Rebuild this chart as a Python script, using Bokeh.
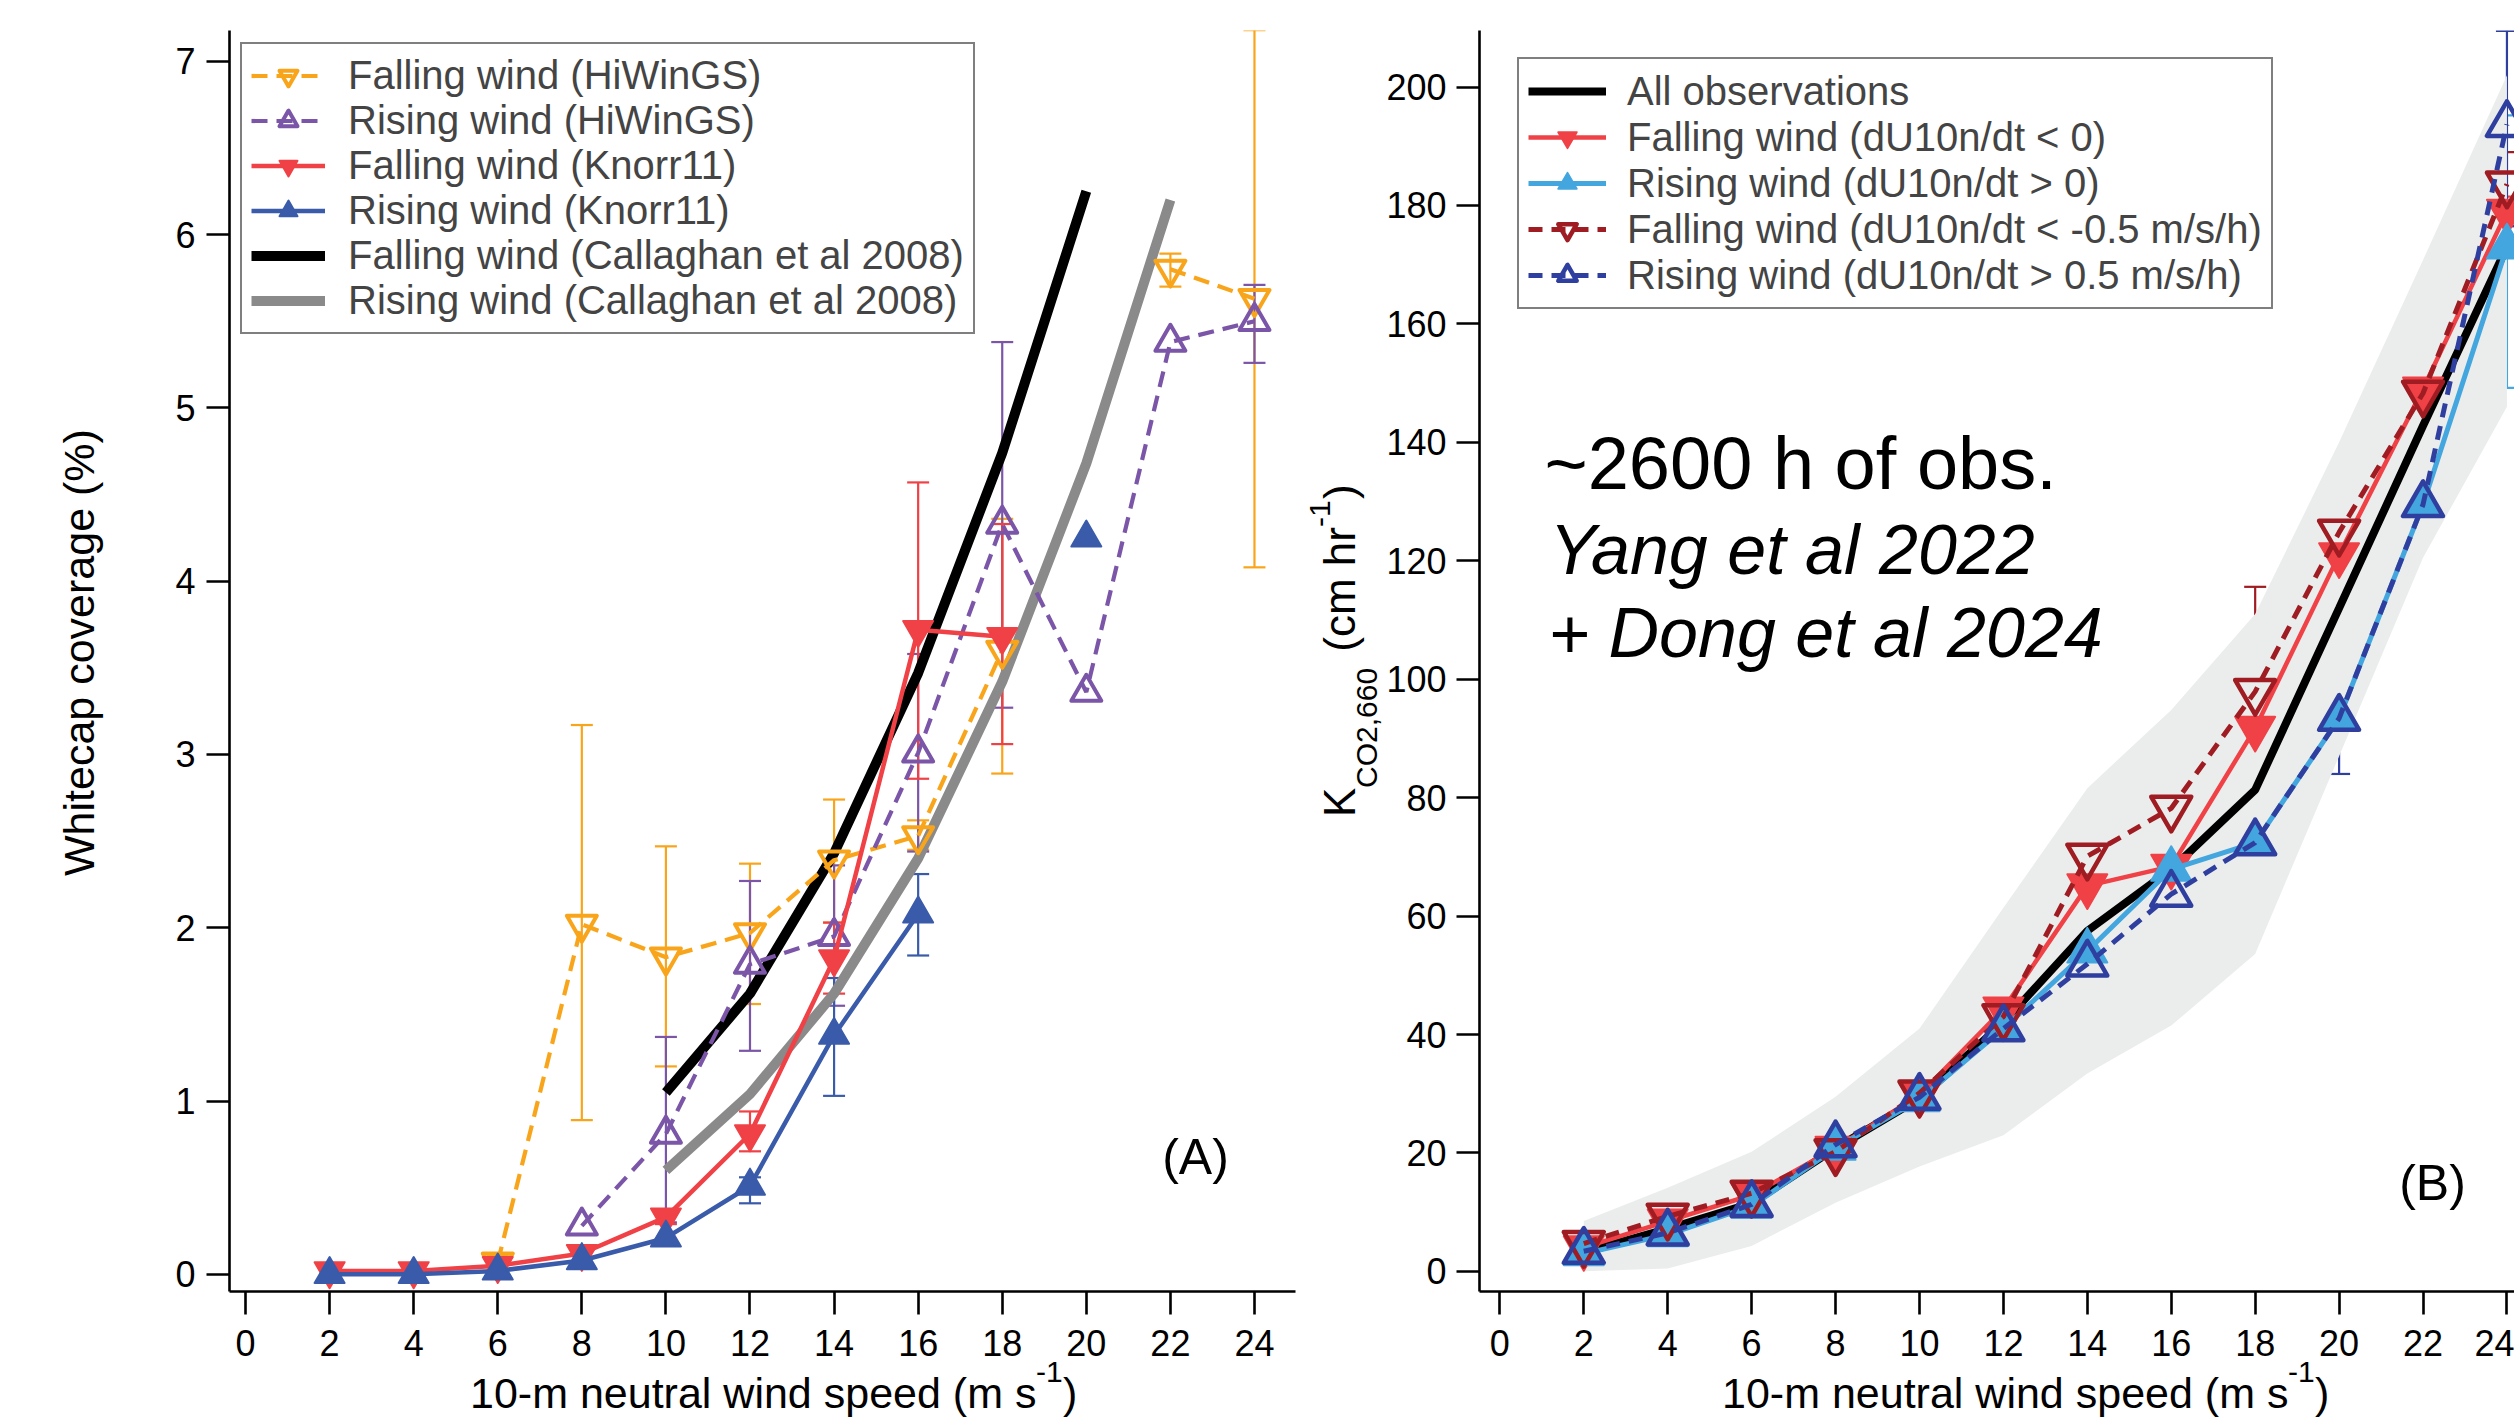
import math
from bokeh.plotting import figure
from bokeh.models import (Range1d, FixedTicker, Label, Legend, LegendItem, Div,
                          ColumnDataSource, Whisker, TeeHead)
from bokeh.layouts import row, column
from bokeh.embed import file_html
from bokeh.resources import INLINE

NaN = float("nan")

# ---------------- data: panel A (whitecap coverage, %) ----------------
wind = [2, 4, 6, 8, 10, 12, 14, 16, 18, 20, 22, 24]
x_ticks = [0, 2, 4, 6, 8, 10, 12, 14, 16, 18, 20, 22, 24]
ya_ticks = [0, 1, 2, 3, 4, 5, 6, 7]
yb_ticks = [0, 20, 40, 60, 80, 100, 120, 140, 160, 180, 200]

hiw_fall = [NaN, NaN, 0.07, 2.02, 1.83, 1.97, 2.39, 2.53, 3.60, NaN, 5.80, 5.63]
hiw_fall_lo = [NaN, NaN, 0.03, 0.89, 1.20, 1.56, 2.03, 2.45, 2.89, NaN, 5.70, 4.08]
hiw_fall_hi = [NaN, NaN, 0.11, 3.17, 2.47, 2.37, 2.74, 2.62, 4.36, NaN, 5.89, 7.18]

hiw_rise = [NaN, NaN, NaN, 0.28, 0.81, 1.79, 1.95, 3.01, 4.33, 3.36, 5.38, 5.50]
hiw_rise_lo = [NaN, NaN, NaN, NaN, 0.30, 1.29, 1.55, 2.44, 3.27, NaN, NaN, 5.26]
hiw_rise_hi = [NaN, NaN, NaN, NaN, 1.37, 2.27, 2.36, 3.58, 5.38, NaN, NaN, 5.71]

knorr_fall = [0.02, 0.02, 0.05, 0.12, 0.33, 0.81, 1.82, 3.72, 3.68, NaN, NaN, NaN]
knorr_fall_lo = [NaN, NaN, NaN, NaN, 0.29, 0.71, 1.62, 2.86, 3.06, NaN, NaN, NaN]
knorr_fall_hi = [NaN, NaN, NaN, NaN, 0.37, 0.94, 2.03, 4.57, 4.33, NaN, NaN, NaN]

knorr_rise = [0.0, 0.0, 0.02, 0.08, 0.21, 0.51, 1.38, 2.08, NaN, 4.25, NaN, NaN]
knorr_rise_lo = [NaN, NaN, NaN, NaN, NaN, 0.41, 1.03, 1.84, NaN, NaN, NaN, NaN]
knorr_rise_hi = [NaN, NaN, NaN, NaN, NaN, 0.56, 1.71, 2.31, NaN, NaN, NaN, NaN]

callaghan_fall = [NaN, NaN, NaN, NaN, 1.05, 1.62, 2.43, 3.47, 4.74, 6.25, NaN, NaN]
callaghan_rise = [NaN, NaN, NaN, NaN, 0.60, 1.04, 1.62, 2.40, 3.42, 4.68, 6.20, NaN]

# ---------------- data: panel B (K_CO2,660, cm/hr) ----------------
all_obs = [3.2, 7.2, 11.5, 20.8, 29.2, 42.0, 57.5, 67.9, 81.3, 112.0, 142.8, 173.0]
range_lo = [0.0, 0.5, 4.3, 11.6, 17.7, 23.0, 33.4, 41.5, 53.6, 87.0, 120.5, 146.0]
range_hi = [8.5, 14.1, 20.2, 29.5, 41.0, 61.4, 81.6, 94.8, 111.0, 140.0, 170.8, 202.0]

k_fall = [4.0, 8.5, 12.9, 20.8, 29.8, 44.3, 65.1, 68.4, 91.7, 121.0, 149.0, 179.0]
k_fall_lo = [NaN, NaN, NaN, NaN, NaN, 42.0, 62.0, 63.4, 83.5, 118.0, 146.0, 176.5]
k_fall_hi = [NaN, NaN, NaN, NaN, NaN, 46.2, 68.5, 73.0, 99.9, 124.0, 152.0, 181.5]

k_rise = [3.0, 6.2, 11.0, 20.8, 29.0, 41.0, 54.1, 67.9, 72.4, 93.4, 129.5, 173.0]
k_rise_lo = [NaN, NaN, NaN, NaN, NaN, NaN, 52.5, 64.5, 68.1, NaN, NaN, 149.2]
k_rise_hi = [NaN, NaN, NaN, NaN, NaN, NaN, 55.5, 70.5, 77.4, NaN, NaN, 195.2]

k_fall05 = [4.7, 9.3, 13.2, 20.2, 30.1, 43.0, 70.1, 78.2, 97.9, 124.8, 148.3, 183.6]
k_fall05_lo = [NaN, NaN, NaN, NaN, NaN, NaN, 64.0, 66.0, 79.8, 119.0, 135.9, 178.0]
k_fall05_hi = [NaN, NaN, NaN, NaN, NaN, NaN, 75.9, 90.7, 115.6, 131.0, 162.9, 189.0]

k_rise05 = [3.4, 6.5, 11.3, 21.4, 29.4, 41.0, 51.9, 63.7, 72.4, 93.4, 129.5, 193.7]
k_rise05_lo = [NaN, NaN, NaN, NaN, NaN, NaN, 48.4, 60.0, 65.9, 84.0, NaN, 176.5]
k_rise05_hi = [NaN, NaN, NaN, NaN, NaN, NaN, 55.5, 68.0, 77.0, 100.9, NaN, 209.5]

# ---------------- styles ----------------
FONT = "Liberation Sans"
ORANGE = "#F9A51B"
PURPLE = "#7B55A7"
RED = "#EF4146"
BLUE_A = "#3A5BA9"
GRAY = "#8A8A8A"
LIGHTBLUE = "#43A6DE"
DARKRED = "#9E1C22"
DARKBLUE = "#2F3F9F"
BAND = "#EBEDEC"

PAGE_W, PAGE_H = 2514, 1419
ROW2_H = 48                    # strip holding the x-axis titles
ROW1_H = PAGE_H - ROW2_H
FRAME_BOTTOM = 1291            # page px of both x axes
YA_W = 110                     # strip holding panel A y title
YB_W = 83                      # strip holding panel B y title
A_W = 1300 - YA_W
B_W = PAGE_W - 1300 - YB_W


def style_fig(p, yticks, ystandoff):
    p.outline_line_color = None
    p.background_fill_color = "white"
    p.border_fill_color = "white"
    p.xgrid.visible = False
    p.ygrid.visible = False
    p.xaxis.ticker = FixedTicker(ticks=x_ticks)
    p.yaxis.ticker = FixedTicker(ticks=yticks)
    for ax in (p.xaxis[0], p.yaxis[0]):
        ax.axis_line_width = 2.6
        ax.axis_line_color = "black"
        ax.major_tick_line_width = 2.6
        ax.major_tick_line_color = "black"
        ax.major_tick_in = 0
        ax.major_tick_out = 23
        ax.minor_tick_line_color = None
        ax.major_label_text_font = FONT
        ax.major_label_text_font_size = "36px"
        ax.major_label_text_color = "black"
    p.xaxis.major_label_standoff = 15
    p.yaxis.major_label_standoff = ystandoff


def series(p, y, color, marker, filled, dash, lw, size, mlw, lo=None, hi=None):
    src = ColumnDataSource(dict(x=wind, y=y))
    r_line = p.line("x", "y", source=src, line_color=color, line_width=lw,
                    line_dash=dash)
    r_pts = p.scatter("x", "y", source=src, marker=marker, size=size,
                      line_color=color, line_width=mlw, line_join="round",
                      fill_color=color if filled else None)
    if lo is not None:
        idx = [i for i in range(len(wind))
               if not (math.isnan(lo[i]) or math.isnan(hi[i]))]
        wsrc = ColumnDataSource(dict(base=[wind[i] for i in idx],
                                     lower=[lo[i] for i in idx],
                                     upper=[hi[i] for i in idx]))
        w = Whisker(source=wsrc, base="base", lower="lower", upper="upper",
                    line_color=color, line_width=2.2,
                    upper_head=TeeHead(size=22, line_color=color, line_width=2.2),
                    lower_head=TeeHead(size=22, line_color=color, line_width=2.2))
        p.add_layout(w)
    return [r_line, r_pts]


def make_legend(items, loc, glyph_w, glyph_h, standoff):
    leg = Legend(items=items, location=loc)
    leg.label_text_font = FONT
    leg.label_text_font_size = "40px"
    leg.glyph_width = glyph_w
    leg.glyph_height = glyph_h
    leg.label_height = 40
    leg.spacing = 0
    leg.padding = 9
    leg.margin = 0
    leg.label_standoff = standoff
    leg.border_line_color = "black"
    leg.border_line_width = 2.6
    leg.background_fill_color = "white"
    leg.background_fill_alpha = 1.0
    return leg


def lab(p, frame_left, X, Yb, text, fs, align="left", style="normal"):
    # in-frame text; X = page x, Yb = page y of the baseline
    p.add_layout(Label(x=X - frame_left, y=FRAME_BOTTOM - (Yb - 0.3465 * fs),
                       x_units="screen", y_units="screen", text=text,
                       text_font=FONT, text_font_size=f"{fs}px", text_color="black",
                       text_align=align, text_baseline="middle",
                       text_font_style=style))


def piece(text, left, top, fs, rotate=False):
    st = (f"position:absolute;left:{left:.1f}px;top:{top:.1f}px;"
          f"font-family:'{FONT}';font-size:{fs}px;line-height:{fs}px;"
          "white-space:pre;color:black;margin:0;padding:0;")
    if rotate:
        st += "transform:rotate(-90deg);transform-origin:0 0;"
    return f'<span style="{st}">{text}</span>'


def hpiece(text, div_left, div_top, Xs, Yb, fs):
    # horizontal text: Xs = start x, Yb = baseline y (page px)
    return piece(text, Xs - div_left, Yb - 0.8465 * fs - div_top, fs)


def vpiece(text, div_left, div_top, Xb, Ys, fs):
    # text reading upward: Xb = baseline x, Ys = start y (page px)
    return piece(text, Xb - 0.8465 * fs - div_left, Ys - div_top, fs, rotate=True)


def text_div(pieces, w, h):
    html = ('<div style="position:relative;width:%dpx;height:%dpx;overflow:visible;">'
            % (w, h)) + "".join(pieces) + "</div>"
    return Div(text=html, width=w, height=h, margin=0,
               styles={"overflow": "visible", "margin": "0px", "padding": "0px"})


# ---------------- panel A ----------------
pA = figure(width=A_W, height=ROW1_H, x_range=Range1d(-0.381, 24.976),
            y_range=Range1d(-0.099, 7.178), output_backend="svg",
            toolbar_location=None, title=None,
            min_border_left=229 - YA_W, min_border_right=5,
            min_border_top=30, min_border_bottom=ROW1_H - FRAME_BOTTOM)
style_fig(pA, ya_ticks, 11)

src_cf = ColumnDataSource(dict(x=wind, y=callaghan_rise))
r_gray = pA.line("x", "y", source=src_cf, line_color=GRAY, line_width=10)
src_cr = ColumnDataSource(dict(x=wind, y=callaghan_fall))
r_black = pA.line("x", "y", source=src_cr, line_color="black", line_width=10)

r_or = series(pA, hiw_fall, ORANGE, "inverted_triangle", False, "16 9", 4.2, 30, 4,
              hiw_fall_lo, hiw_fall_hi)
r_pu = series(pA, hiw_rise, PURPLE, "triangle", False, "16 9", 4.2, 30, 4,
              hiw_rise_lo, hiw_rise_hi)
r_re = series(pA, knorr_fall, RED, "inverted_triangle", True, "solid", 4.5, 30, 2,
              knorr_fall_lo, knorr_fall_hi)
r_bl = series(pA, knorr_rise, BLUE_A, "triangle", True, "solid", 4.5, 30, 2,
              knorr_rise_lo, knorr_rise_hi)

legA = make_legend([
    LegendItem(label="Falling wind (HiWinGS)", renderers=r_or),
    LegendItem(label="Rising wind (HiWinGS)", renderers=r_pu),
    LegendItem(label="Falling wind (Knorr11)", renderers=r_re),
    LegendItem(label="Rising wind (Knorr11)", renderers=r_bl),
    LegendItem(label="Falling wind (Callaghan et al 2008)", renderers=[r_black]),
    LegendItem(label="Rising wind (Callaghan et al 2008)", renderers=[r_gray]),
], (11, 957), 74, 45, 23)
pA.add_layout(legA)
lab(pA, 229, 1195, 1174, "(A)", 50, align="center")

# ---------------- panel B ----------------
pB = figure(width=B_W, height=ROW1_H, x_range=Range1d(-0.485, 24.18),
            y_range=Range1d(-3.4, 209.55), output_backend="svg",
            toolbar_location=None, title=None,
            min_border_left=1477 - (1300 + YB_W), min_border_right=0,
            min_border_top=24, min_border_bottom=ROW1_H - FRAME_BOTTOM)
style_fig(pB, yb_ticks, 10)

band_src = ColumnDataSource(dict(x=wind, lo=range_lo, hi=range_hi))
pB.varea(x="x", y1="lo", y2="hi", source=band_src, fill_color=BAND)

src_all = ColumnDataSource(dict(x=wind, y=all_obs))
r_all = pB.line("x", "y", source=src_all, line_color="black", line_width=8)
r_f = series(pB, k_fall, RED, "inverted_triangle", True, "solid", 4.5, 40, 2,
             k_fall_lo, k_fall_hi)
r_r = series(pB, k_rise, LIGHTBLUE, "triangle", True, "solid", 5, 40, 2,
             k_rise_lo, k_rise_hi)
r_f5 = series(pB, k_fall05, DARKRED, "inverted_triangle", False, "14 9", 5, 40, 4.5,
              k_fall05_lo, k_fall05_hi)
r_r5 = series(pB, k_rise05, DARKBLUE, "triangle", False, "14 9", 5, 40, 4.5,
              k_rise05_lo, k_rise05_hi)

legB = make_legend([
    LegendItem(label="All observations", renderers=[r_all]),
    LegendItem(label="Falling wind (dU10n/dt < 0)", renderers=r_f),
    LegendItem(label="Rising wind (dU10n/dt > 0)", renderers=r_r),
    LegendItem(label="Falling wind (dU10n/dt < -0.5 m/s/h)", renderers=r_f5),
    LegendItem(label="Rising wind (dU10n/dt > 0.5 m/s/h)", renderers=r_r5),
], (38, 982), 78, 46, 21)
pB.add_layout(legB)

lab(pB, 1477, 1542, 489, "~2600 h of obs.", 74)
lab(pB, 1477, 1547, 574, "Yang et al 2022", 70, style="italic")
lab(pB, 1477, 1547, 657, "+", 70)
lab(pB, 1477, 1606, 657, "Dong et al 2024", 70, style="italic")
lab(pB, 1477, 2430, 1200, "(B)", 50, align="center")

# ---------------- axis titles (HTML text strips) ----------------
ya_len = 447  # approx. length of the A title at 43px
divYA = text_div([vpiece("Whitecap coverage (%)", 0, 0, 94, 652 + ya_len / 2, 43)],
                 YA_W, ROW1_H)
divYB = text_div([
    vpiece("K", 1300, 0, 1355, 817, 44),
    vpiece("CO2,660", 1300, 0, 1377, 788, 30),
    vpiece(" (cm hr", 1300, 0, 1355, 664, 44),
    vpiece("-1", 1300, 0, 1330, 527, 30),
    vpiece(")", 1300, 0, 1355, 499, 44),
], YB_W, ROW1_H)
XT_BASE = 1408
divXA = text_div([
    hpiece("10-m neutral wind speed (m s", 0, ROW1_H, 470, XT_BASE, 43),
    hpiece("-1", 0, ROW1_H, 1036, XT_BASE - 26, 30),
    hpiece(")", 0, ROW1_H, 1063, XT_BASE, 43),
], 1300, ROW2_H)
divXB = text_div([
    hpiece("10-m neutral wind speed (m s", 1300, ROW1_H, 1722, XT_BASE, 43),
    hpiece("-1", 1300, ROW1_H, 2288, XT_BASE - 26, 30),
    hpiece(")", 1300, ROW1_H, 2315, XT_BASE, 43),
], PAGE_W - 1300, ROW2_H)

layout = column(row(divYA, pA, divYB, pB), row(divXA, divXB))
open("out.html", "w").write(file_html(layout, INLINE))
